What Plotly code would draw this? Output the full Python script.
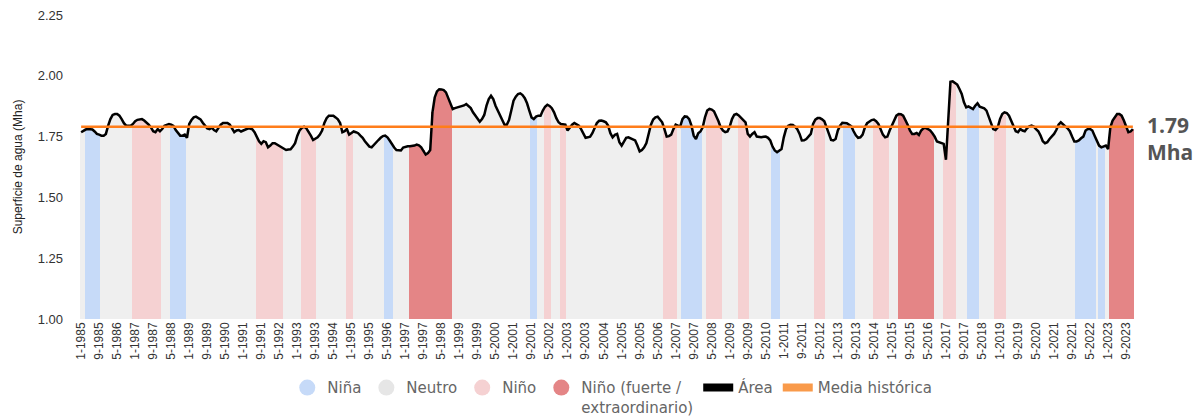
import plotly.graph_objects as go

start_year = 1985
n_months = 468
months = [f"{(i % 12) + 1}-{start_year + i // 12}" for i in range(n_months)]

area = [
    1.768, 1.775, 1.779, 1.781, 1.781, 1.779, 1.771, 1.761, 1.758, 1.754, 1.754, 1.761,
    1.795, 1.822, 1.839, 1.843, 1.843, 1.836, 1.822, 1.805, 1.795, 1.795, 1.795, 1.802,
    1.813, 1.819, 1.822, 1.822, 1.816, 1.809, 1.799, 1.788, 1.772, 1.768, 1.781, 1.772,
    1.781, 1.795, 1.799, 1.802, 1.799, 1.794, 1.777, 1.764, 1.754, 1.754, 1.758, 1.745,
    1.802, 1.818, 1.829, 1.832, 1.826, 1.821, 1.807, 1.795, 1.784, 1.781, 1.787, 1.777,
    1.772, 1.786, 1.799, 1.806, 1.806, 1.806, 1.799, 1.781, 1.768, 1.775, 1.777, 1.771,
    1.775, 1.780, 1.783, 1.783, 1.780, 1.768, 1.747, 1.731, 1.720, 1.731, 1.727, 1.706,
    1.713, 1.723, 1.723, 1.717, 1.713, 1.706, 1.698, 1.695, 1.697, 1.698, 1.709, 1.723,
    1.754, 1.775, 1.786, 1.791, 1.784, 1.771, 1.754, 1.736, 1.740, 1.747, 1.758, 1.775,
    1.806, 1.826, 1.836, 1.837, 1.836, 1.829, 1.821, 1.806, 1.768, 1.772, 1.781, 1.758,
    1.764, 1.771, 1.768, 1.764, 1.754, 1.745, 1.731, 1.720, 1.709, 1.706, 1.717, 1.724,
    1.736, 1.745, 1.752, 1.754, 1.747, 1.734, 1.717, 1.705, 1.695, 1.694, 1.693, 1.705,
    1.709, 1.710, 1.710, 1.710, 1.713, 1.717, 1.714, 1.706, 1.693, 1.676, 1.682, 1.695,
    1.850, 1.911, 1.936, 1.945, 1.944, 1.941, 1.932, 1.908, 1.884, 1.863, 1.867, 1.870,
    1.870, 1.873, 1.878, 1.884, 1.876, 1.867, 1.850, 1.836, 1.822, 1.811, 1.822, 1.839,
    1.877, 1.904, 1.918, 1.904, 1.877, 1.857, 1.836, 1.822, 1.799, 1.799, 1.818, 1.857,
    1.898, 1.914, 1.925, 1.928, 1.921, 1.908, 1.887, 1.857, 1.829, 1.822, 1.832, 1.836,
    1.836, 1.857, 1.873, 1.881, 1.876, 1.867, 1.850, 1.826, 1.809, 1.802, 1.802, 1.799,
    1.775, 1.788, 1.799, 1.806, 1.802, 1.795, 1.781, 1.761, 1.745, 1.747, 1.750, 1.764,
    1.788, 1.806, 1.815, 1.816, 1.813, 1.809, 1.795, 1.764, 1.747, 1.757, 1.761, 1.727,
    1.713, 1.731, 1.745, 1.747, 1.743, 1.739, 1.734, 1.713, 1.689, 1.695, 1.706, 1.723,
    1.768, 1.799, 1.820, 1.829, 1.832, 1.822, 1.809, 1.781, 1.750, 1.752, 1.758, 1.781,
    1.799, 1.795, 1.791, 1.822, 1.833, 1.832, 1.822, 1.795, 1.754, 1.740, 1.764, 1.771,
    1.788, 1.829, 1.857, 1.864, 1.861, 1.854, 1.836, 1.813, 1.788, 1.775, 1.768, 1.771,
    1.791, 1.822, 1.840, 1.843, 1.837, 1.829, 1.821, 1.809, 1.761, 1.750, 1.761, 1.768,
    1.750, 1.747, 1.747, 1.749, 1.750, 1.745, 1.734, 1.709, 1.693, 1.686, 1.693, 1.699,
    1.747, 1.781, 1.795, 1.799, 1.798, 1.791, 1.780, 1.761, 1.734, 1.735, 1.740, 1.750,
    1.761, 1.802, 1.820, 1.826, 1.826, 1.821, 1.813, 1.788, 1.758, 1.736, 1.734, 1.740,
    1.775, 1.795, 1.807, 1.807, 1.805, 1.799, 1.792, 1.772, 1.755, 1.745, 1.747, 1.758,
    1.787, 1.805, 1.813, 1.818, 1.820, 1.813, 1.802, 1.777, 1.758, 1.747, 1.750, 1.775,
    1.796, 1.822, 1.836, 1.843, 1.842, 1.836, 1.818, 1.799, 1.775, 1.761, 1.761, 1.765,
    1.757, 1.775, 1.784, 1.786, 1.781, 1.775, 1.764, 1.750, 1.730, 1.727, 1.725, 1.720,
    1.655, 1.810, 1.975, 1.977, 1.969, 1.964, 1.946, 1.925, 1.891, 1.870, 1.874, 1.870,
    1.863, 1.877, 1.887, 1.873, 1.870, 1.866, 1.857, 1.829, 1.802, 1.781, 1.777, 1.788,
    1.822, 1.843, 1.850, 1.847, 1.836, 1.816, 1.795, 1.772, 1.768, 1.781, 1.775, 1.772,
    1.784, 1.792, 1.795, 1.791, 1.781, 1.772, 1.754, 1.731, 1.723, 1.727, 1.740, 1.750,
    1.761, 1.777, 1.799, 1.809, 1.799, 1.792, 1.784, 1.772, 1.750, 1.730, 1.730, 1.734,
    1.743, 1.750, 1.775, 1.781, 1.781, 1.775, 1.754, 1.734, 1.713, 1.706, 1.709, 1.713,
    1.699, 1.788, 1.816, 1.832, 1.843, 1.843, 1.836, 1.816, 1.791, 1.768, 1.771, 1.781,
]

media_historica = 1.79

nina_periods = [("1985-03", "1985-09"), ("1988-05", "1988-11"), ("1996-04", "1996-07"),
                ("2001-09", "2001-11"), ("2007-04", "2007-12"), ("2010-08", "2010-11"),
                ("2013-04", "2013-08"), ("2017-11", "2018-03"), ("2021-11", "2022-07"),
                ("2022-09", "2022-11")]
nino_periods = [("1986-12", "1987-12"), ("1991-07", "1992-06"), ("1993-03", "1993-09"),
                ("1994-11", "1995-01"), ("2002-03", "2002-05"), ("2002-10", "2002-12"),
                ("2006-08", "2007-01"), ("2008-03", "2008-09"), ("2009-05", "2009-09"),
                ("2012-03", "2012-07"), ("2014-05", "2014-11"), ("2016-12", "2017-05"),
                ("2018-11", "2019-03")]
nino_fuerte_periods = [("1997-03", "1998-09"), ("2015-04", "2016-07"), ("2023-02", "2023-12")]

tick_step = 8

C_NINA = "#c6daf8"
C_NEUTRO = "#efefef"
C_NINO = "#f5d1d2"
C_FUERTE = "#e48586"
C_LEG_NEUTRO = "#e6e6e6"
C_ORANGE = "#ff7d1a"


def idx(s):
    y, m = s.split("-")
    return (int(y) - start_year) * 12 + int(m) - 1


phase = ["Neutro"] * n_months
for name, periods in (("Niña", nina_periods), ("Niño", nino_periods),
                      ("Niño fuerte", nino_fuerte_periods)):
    for a, b in periods:
        for k in range(idx(a), idx(b) + 1):
            phase[k] = name

fig = go.Figure()
colors = {"Niña": C_NINA, "Neutro": C_NEUTRO, "Niño": C_NINO, "Niño fuerte": C_FUERTE}
for name in ["Neutro", "Niña", "Niño", "Niño fuerte"]:
    fig.add_trace(go.Bar(
        x=months,
        y=[v if p == name else None for v, p in zip(area, phase)],
        marker=dict(color=colors[name], line=dict(width=0)),
        width=1.0, showlegend=False, hoverinfo="skip",
    ))

fig.add_trace(go.Scatter(x=months, y=area, mode="lines",
                         line=dict(color="#000000", width=2.5),
                         showlegend=False))
fig.add_trace(go.Scatter(x=months, y=[media_historica] * n_months, mode="lines",
                         line=dict(color=C_ORANGE, width=2.5),
                         showlegend=False))

# legend entries
leg = [("Niña", C_NINA), ("Neutro", C_LEG_NEUTRO), ("Niño", C_NINO),
       ("Niño (fuerte /<br>extraordinario)", C_FUERTE)]
for name, col in leg:
    fig.add_trace(go.Scatter(x=[None], y=[None], mode="markers", name=name,
                             marker=dict(symbol="circle", size=17, color=col)))
fig.add_trace(go.Scatter(x=[None], y=[None], mode="lines", name="Área",
                         line=dict(color="#000000", width=8)))
fig.add_trace(go.Scatter(x=[None], y=[None], mode="lines", name="Media histórica",
                         line=dict(color="#f99a4a", width=8)))

fig.add_annotation(
    text="<b>1.79<br>Mha</b>", xref="paper", yref="y",
    x=1.010, y=1.862, xanchor="left", yanchor="top", showarrow=False, align="left",
    font=dict(family="Open Sans", size=21, color="#555555"),
)

# page body adds an 8px offset; compensate so the plot area lands at x 80-1134, y 15-319
fig.update_layout(
    width=1194, height=409,
    margin=dict(l=72, r=68, t=7, b=98, autoexpand=False),
    paper_bgcolor="white", plot_bgcolor="white",
    barmode="overlay", bargap=0,
    showlegend=True,
    legend=dict(orientation="h", x=0.505, xanchor="center", y=-0.172, yanchor="top",
                font=dict(family="DejaVu Sans", size=15, color="#666666"),
                valign="top", itemwidth=30, tracegroupgap=0),
    font=dict(family="Arial", size=12, color="#333333"),
)
fig.update_xaxes(
    type="category", range=[-0.5, n_months - 0.5], automargin=False,
    tickmode="array", tickvals=months[::tick_step], ticktext=months[::tick_step],
    tickangle=-90, showgrid=False, zeroline=False, showline=False, ticks="",
    tickfont=dict(family="Arial", size=12, color="#333333"),
)
fig.update_yaxes(
    range=[1.0, 2.25], tickvals=[1.0, 1.25, 1.5, 1.75, 2.0, 2.25], tickformat=".2f",
    showgrid=False, zeroline=False, showline=False, ticks="", ticklabelstandoff=16,
    automargin=False, ticklabeloverflow="allow",
    tickfont=dict(family="Arial", size=13, color="#333333"),
    title=dict(text="Superficie de agua (Mha)", standoff=12,
               font=dict(family="Arial", size=12, color="#222222")),
)

fig.write_html("out.html")
